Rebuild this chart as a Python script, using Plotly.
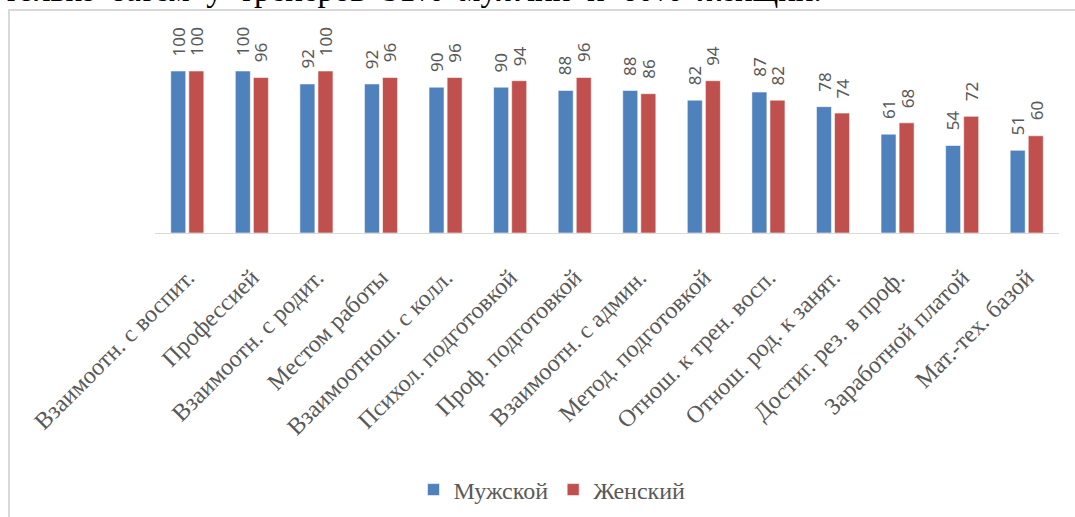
import plotly.graph_objects as go

categories = [
    "Взаимоотн. с воспит.", "Профессией", "Взаимоотн. с родит.", "Местом работы",
    "Взаимоотнош. с колл.", "Психол. подготовкой", "Проф. подготовкой",
    "Взаимоотн. с админ.", "Метод. подготовкой", "Отнош. к трен. восп.",
    "Отнош. род. к занят.", "Достиг. рез. в проф.", "Заработной платой",
    "Мат.-тех. базой",
]
male = [100, 100, 92, 92, 90, 90, 88, 88, 82, 87, 78, 61, 54, 51]
female = [100, 96, 100, 96, 96, 94, 96, 86, 94, 82, 74, 68, 72, 60]
series_names = ["Мужской", "Женский"]
colors = ["#4f81bd", "#c0504d"]
top_text = "только затем у тренеров 51% мужчин и 60% женщин."

W, H = 1075, 517
L, R, T, B = 155, 16, 30, 284
plot_h = H - T - B
ymax = 125.3

fig = go.Figure()
for name, vals, col in zip(series_names, [male, female], colors):
    fig.add_trace(go.Bar(
        x=categories, y=vals, name=name,
        marker=dict(color=col, line=dict(color="rgba(255,255,255,0.7)", width=0.8)),
        hoverinfo="x+y",
    ))

annotations = []
for vals, shift in zip([male, female], [-9.3, 9.3]):
    for c, v in zip(categories, vals):
        annotations.append(dict(
            x=c, y=v, xref="x", yref="y", text=str(v), showarrow=False,
            textangle=-90, xanchor="center", yanchor="bottom",
            xshift=shift, yshift=13,
            font=dict(family="Noto Sans", size=17, color="#595959"),
        ))

# clipped paragraph text above the chart (justified line)
annotations.append(dict(
    x=(2 - L) / (W - L - R), y=(H - B - 10) / plot_h, xref="paper", yref="paper",
    text=top_text.replace(" ", " \u00a0"), showarrow=False, xanchor="left", yanchor="bottom",
    font=dict(family="Liberation Serif", size=33, color="#000000"),
))
fig.update_layout(annotations=annotations)

# chart frame border
fig.add_shape(
    type="rect", xref="paper", yref="paper",
    x0=(9 - L) / (W - L - R), x1=1.1,
    y0=-2.0, y1=(H - B - 10) / plot_h,
    line=dict(color="#d9d9d9", width=2), fillcolor="rgba(0,0,0,0)", layer="below",
)

fig.update_layout(
    width=W, height=H,
    margin=dict(l=L, r=R, t=T, b=B),
    paper_bgcolor="white", plot_bgcolor="white",
    barmode="group", bargap=0.44, bargroupgap=0.17,
    showlegend=True,
    legend=dict(
        orientation="h", xref="container", yref="container",
        x=552 / W, y=1 - 490 / H, xanchor="center", yanchor="middle",
        font=dict(family="Liberation Serif", size=24, color="#595959"),
        itemwidth=30, traceorder="normal",
    ),
    xaxis=dict(
        showline=True, linecolor="#d9d9d9", linewidth=1, ticks="",
        tickangle=-45, ticklabelstandoff=20,
        tickfont=dict(family="Liberation Serif", size=24, color="#595959"),
        showgrid=False, zeroline=False,
    ),
    yaxis=dict(range=[0, ymax], visible=False, showgrid=False, zeroline=False),
)

fig.write_html("out.html")
